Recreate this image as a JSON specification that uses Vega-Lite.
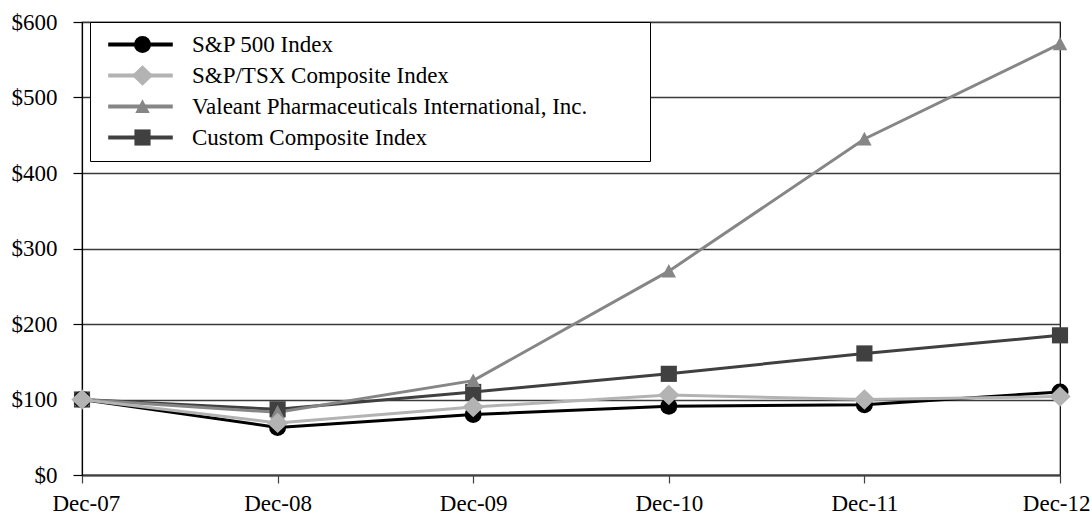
{
  "$schema": "https://vega.github.io/schema/vega-lite/v6.json",
  "width": 978,
  "height": 453,
  "autosize": {"type": "none"},
  "padding": {"left": 82, "top": 22, "right": 32, "bottom": 40},
  "background": "white",
  "config": {
    "font": "Liberation Serif",
    "view": {"stroke": "#000000", "strokeWidth": 1.2}
  },
  "data": {
    "values": [
      {"series": "Custom Composite Index", "date": "Dec-07", "value": 100},
      {"series": "Custom Composite Index", "date": "Dec-08", "value": 87},
      {"series": "Custom Composite Index", "date": "Dec-09", "value": 110},
      {"series": "Custom Composite Index", "date": "Dec-10", "value": 134},
      {"series": "Custom Composite Index", "date": "Dec-11", "value": 161},
      {"series": "Custom Composite Index", "date": "Dec-12", "value": 185},
      {"series": "Valeant Pharmaceuticals International, Inc.", "date": "Dec-07", "value": 100},
      {"series": "Valeant Pharmaceuticals International, Inc.", "date": "Dec-08", "value": 83},
      {"series": "Valeant Pharmaceuticals International, Inc.", "date": "Dec-09", "value": 125},
      {"series": "Valeant Pharmaceuticals International, Inc.", "date": "Dec-10", "value": 270},
      {"series": "Valeant Pharmaceuticals International, Inc.", "date": "Dec-11", "value": 445},
      {"series": "Valeant Pharmaceuticals International, Inc.", "date": "Dec-12", "value": 571},
      {"series": "S&P 500 Index", "date": "Dec-07", "value": 100},
      {"series": "S&P 500 Index", "date": "Dec-08", "value": 63},
      {"series": "S&P 500 Index", "date": "Dec-09", "value": 80},
      {"series": "S&P 500 Index", "date": "Dec-10", "value": 91},
      {"series": "S&P 500 Index", "date": "Dec-11", "value": 93},
      {"series": "S&P 500 Index", "date": "Dec-12", "value": 110},
      {"series": "S&P/TSX Composite Index", "date": "Dec-07", "value": 100},
      {"series": "S&P/TSX Composite Index", "date": "Dec-08", "value": 69},
      {"series": "S&P/TSX Composite Index", "date": "Dec-09", "value": 90},
      {"series": "S&P/TSX Composite Index", "date": "Dec-10", "value": 106},
      {"series": "S&P/TSX Composite Index", "date": "Dec-11", "value": 100},
      {"series": "S&P/TSX Composite Index", "date": "Dec-12", "value": 104}
    ]
  },
  "encoding": {
    "x": {
      "field": "date",
      "type": "ordinal",
      "sort": ["Dec-07", "Dec-08", "Dec-09", "Dec-10", "Dec-11", "Dec-12"],
      "scale": {"type": "point", "padding": 0},
      "axis": {
        "title": null,
        "labelAngle": 0,
        "labelFont": "Liberation Serif",
        "labelFontSize": 23,
        "labelColor": "#000000",
        "labelFlush": true,
        "labelFlushOffset": 30,
        "tickSize": 8,
        "tickColor": "#404040",
        "tickWidth": 1.2,
        "domainColor": "#404040",
        "domainWidth": 2,
        "labelPadding": 9,
        "grid": false
      }
    },
    "y": {
      "field": "value",
      "type": "quantitative",
      "scale": {"domain": [0, 600], "nice": false},
      "axis": {
        "title": null,
        "values": [0, 100, 200, 300, 400, 500, 600],
        "labelExpr": "'$' + datum.value",
        "labelFont": "Liberation Serif",
        "labelFontSize": 23,
        "labelColor": "#000000",
        "tickSize": 9,
        "tickColor": "#000000",
        "tickWidth": 1.2,
        "domainColor": "#000000",
        "domainWidth": 1.2,
        "labelPadding": 16,
        "grid": true,
        "gridColor": "#3a3a3a",
        "gridWidth": 1.5
      }
    }
  },
  "layer": [
    {
      "mark": {"type": "line", "strokeWidth": 3},
      "encoding": {
        "color": {
          "field": "series",
          "type": "nominal",
          "scale": {
            "domain": ["S&P 500 Index", "S&P/TSX Composite Index", "Valeant Pharmaceuticals International, Inc.", "Custom Composite Index"],
            "range": ["#000000", "#b3b3b3", "#868686", "#404040"]
          },
          "legend": {
            "orient": "none",
            "legendX": 8,
            "legendY": 0,
            "title": "MMMMM",
            "titleOrient": "right",
            "titleOpacity": 0,
            "titleFontSize": 11,
            "titlePadding": 0,
            "padding": 11,
            "rowPadding": 7,
            "symbolType": "M-3.8,0H3.8",
            "symbolSize": 289,
            "symbolStrokeWidth": 4,
            "symbolOffset": 28,
            "labelOffset": 40,
            "labelLimit": 800,
            "labelFont": "Liberation Serif",
            "labelFontSize": 23,
            "labelColor": "#000000",
            "fillColor": "#ffffff",
            "strokeColor": "#000000"
          }
        }
      }
    },
    {
      "mark": {"type": "point", "filled": true, "size": 289, "opacity": 1, "strokeWidth": 0},
      "encoding": {
        "fill": {
          "field": "series",
          "type": "nominal",
          "scale": {
            "domain": ["S&P 500 Index", "S&P/TSX Composite Index", "Valeant Pharmaceuticals International, Inc.", "Custom Composite Index"],
            "range": ["#000000", "#b3b3b3", "#868686", "#404040"]
          },
          "legend": {
            "orient": "none",
            "legendX": 8,
            "legendY": 0,
            "title": null,
            "padding": 11,
            "rowPadding": 7,
            "symbolSize": 289,
            "symbolStrokeWidth": 0,
            "symbolOffset": 30,
            "labelOffset": 40,
            "labelLimit": 800,
            "labelFont": "Liberation Serif",
            "labelFontSize": 23,
            "labelOpacity": 0
          }
        },
        "shape": {
          "field": "series",
          "type": "nominal",
          "scale": {
            "domain": ["S&P 500 Index", "S&P/TSX Composite Index", "Valeant Pharmaceuticals International, Inc.", "Custom Composite Index"],
            "range": ["circle", "M-1.25,0L0,-1.2L1.25,0L0,1.2Z", "M-0.85,0.75L0,-0.85L0.85,0.75Z", "M-0.95,-0.95H0.95V0.95H-0.95Z"]
          },
          "legend": {
            "orient": "none",
            "legendX": 8,
            "legendY": 0,
            "title": null,
            "padding": 11,
            "rowPadding": 7,
            "symbolSize": 289,
            "symbolStrokeWidth": 0,
            "symbolOffset": 30,
            "labelOffset": 40,
            "labelLimit": 800,
            "labelFont": "Liberation Serif",
            "labelFontSize": 23,
            "labelOpacity": 0
          }
        }
      }
    }
  ],
  "resolve": {"legend": {"fill": "independent", "shape": "independent"}}
}
